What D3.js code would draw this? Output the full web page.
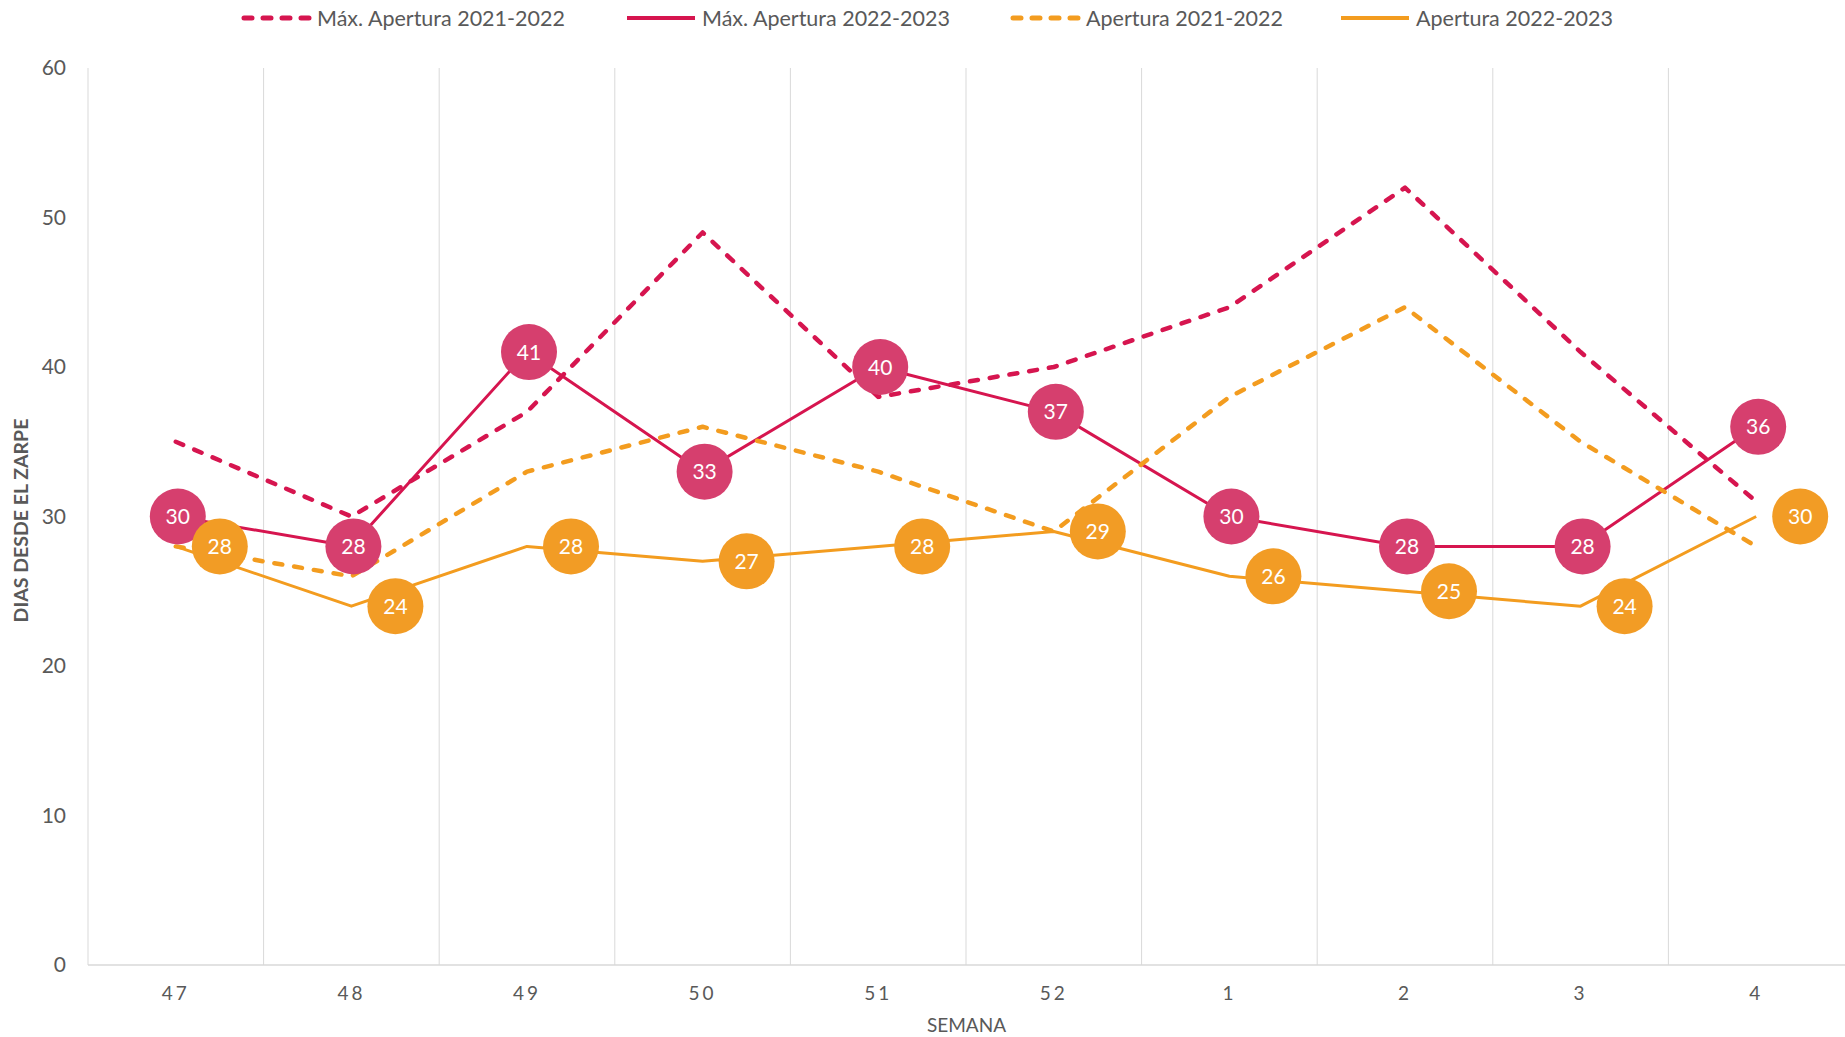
<!DOCTYPE html>
<html>
<head>
<meta charset="utf-8">
<script src="https://cdn.jsdelivr.net/npm/d3@7"></script>
<style>
  body { margin: 0; background: #fff; }
  svg { display: block; font-family: Lato, "Open Sans", sans-serif; }
</style>
</head>
<body>
<div id="chart"></div>
<script>
// semanas
const weeks = ["47", "48", "49", "50", "51", "52", "1", "2", "3", "4"];

// series
const maxAp2122 = [35, 30, 37, 49, 38, 40, 44, 52, 41, 31];
const maxAp2223 = [30, 28, 41, 33, 40, 37, 30, 28, 28, 36];
const ap2122 = [28, 26, 33, 36, 33, 29, 38, 44, 35, 28];
const ap2223 = [28, 24, 28, 27, 28, 29, 26, 25, 24, 30];

const yTicks = [0, 10, 20, 30, 40, 50, 60];

const magenta = "#d6154f", magentaBubble = "#d63f6e";
const orange = "#f39c1f", orangeBubble = "#f29c25";

const width = 1845, height = 1037;
const margin = {top: 68, right: 1, bottom: 72, left: 88};

const svg = d3.select("#chart").append("svg")
    .attr("width", width)
    .attr("height", height);

let x = d3.scaleBand()
    .domain(weeks)
    .range([margin.left, width - margin.right]);

let y = d3.scaleLinear()
    .domain([0, 60])
    .range([height - margin.bottom, margin.top]);

let cx = d => x(d) + x.bandwidth() / 2;

//vertical grid lines between weeks
svg.append("g")
    .selectAll("line")
    .data(weeks.slice(1))
    .enter()
    .append("line")
    .attr("x1", d => x(d))
    .attr("x2", d => x(d))
    .attr("y1", y(60))
    .attr("y2", y(0))
    .attr("stroke", "#d9d9d9")
    .attr("stroke-width", 1);

// axis lines
svg.append("line")
    .attr("x1", margin.left).attr("x2", margin.left)
    .attr("y1", y(60)).attr("y2", y(0))
    .attr("stroke", "#d9d9d9");
svg.append("line")
    .attr("x1", margin.left).attr("x2", width)
    .attr("y1", y(0)).attr("y2", y(0))
    .attr("stroke", "#d9d9d9").attr("stroke-width", 1.5);

// y tick labels
svg.append("g")
    .selectAll("text")
    .data(yTicks)
    .enter()
    .append("text")
    .attr("x", 66)
    .attr("y", d => y(d))
    .attr("dy", "0.35em")
    .attr("text-anchor", "end")
    .attr("font-size", 21)
    .attr("fill", "#595959")
    .text(d => d);

// x tick labels
svg.append("g")
    .selectAll("text")
    .data(weeks)
    .enter()
    .append("text")
    .attr("x", d => cx(d))
    .attr("y", 993)
    .attr("dy", "0.35em")
    .attr("text-anchor", "middle")
    .attr("font-size", 19)
    .attr("letter-spacing", "3px")
    .attr("fill", "#595959")
    .text(d => d);

// axis titles
svg.append("text")
    .attr("x", (margin.left + width) / 2)
    .attr("y", 1025)
    .attr("dy", "0.35em")
    .attr("text-anchor", "middle")
    .attr("font-size", 19)
    .attr("fill", "#595959")
    .text("SEMANA");

svg.append("text")
    .attr("transform", "translate(21," + (y(30) + 4) + ") rotate(-90)")
    .attr("dy", "0.35em")
    .attr("text-anchor", "middle")
    .attr("font-size", 19.5)
    .attr("font-weight", "bold")
    .attr("fill", "#595959")
    .text("DIAS DESDE EL ZARPE");

let line = d3.line()
    .x((d, i) => cx(weeks[i]))
    .y(d => y(d));

const series = [
    {name: "Máx. Apertura 2021-2022", values: maxAp2122, color: magenta, dashed: true},
    {name: "Máx. Apertura 2022-2023", values: maxAp2223, color: magenta, dashed: false},
    {name: "Apertura 2021-2022", values: ap2122, color: orange, dashed: true},
    {name: "Apertura 2022-2023", values: ap2223, color: orange, dashed: false}
];

// draw lines
series.forEach(s => {
    svg.append("path")
        .datum(s.values)
        .attr("d", line)
        .attr("fill", "none")
        .attr("stroke", s.color)
        .attr("stroke-width", s.dashed ? 4.5 : 3)
        .attr("stroke-dasharray", s.dashed ? "8,12" : null)
        .attr("stroke-linecap", s.dashed ? "round" : "butt")
        .attr("stroke-linejoin", "round");
});

// data labels (bubbles)
function bubbles(values, fill, dx) {
    let g = svg.append("g")
        .selectAll("g")
        .data(values)
        .enter()
        .append("g")
        .attr("transform", (d, i) => "translate(" + (cx(weeks[i]) + dx) + "," + y(d) + ")");
    g.append("circle")
        .attr("r", 28)
        .attr("fill", fill);
    g.append("text")
        .attr("text-anchor", "middle")
        .attr("dy", "0.36em")
        .attr("font-size", 21)
        .attr("fill", "#fff")
        .text(d => d);
}
bubbles(maxAp2223, magentaBubble, 2);
bubbles(ap2223, orangeBubble, 44);

// legend
const legendPos = [
    {lx: 241, tx: 317},
    {lx: 627, tx: 702},
    {lx: 1010, tx: 1086},
    {lx: 1341, tx: 1416}
];
let lg = svg.append("g")
    .selectAll("g")
    .data(series)
    .enter()
    .append("g");
lg.append("line")
    .attr("x1", (d, i) => legendPos[i].lx + (d.dashed ? 3 : 0))
    .attr("x2", (d, i) => legendPos[i].lx + 68)
    .attr("y1", 18)
    .attr("y2", 18)
    .attr("stroke", d => d.color)
    .attr("stroke-width", d => d.dashed ? 5 : 4)
    .attr("stroke-linecap", d => d.dashed ? "round" : "butt")
    .attr("stroke-dasharray", d => d.dashed ? "8,11" : null);
lg.append("text")
    .attr("x", (d, i) => legendPos[i].tx)
    .attr("y", 18)
    .attr("dy", "0.35em")
    .attr("font-size", 21.5)
    .attr("fill", "#595959")
    .text(d => d.name);
</script>
</body>
</html>
